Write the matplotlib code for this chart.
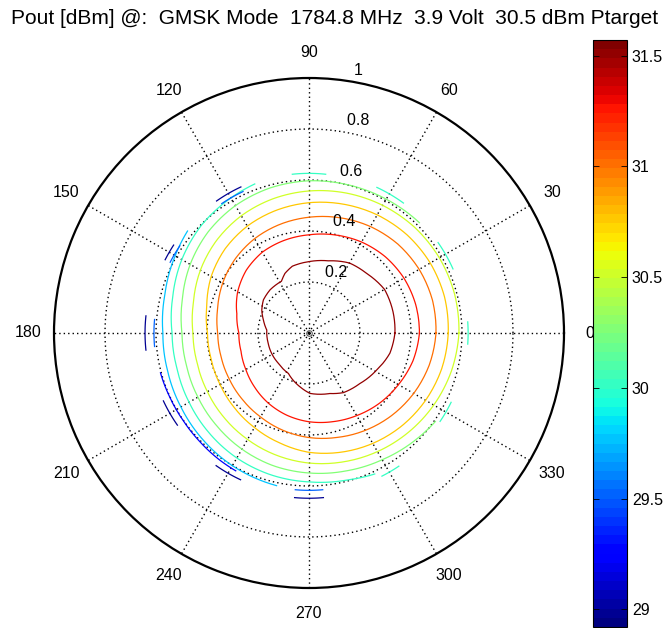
import numpy as np
import matplotlib
matplotlib.use('Agg')
import matplotlib.pyplot as plt
from matplotlib import colors, cm

plt.rcParams['font.family'] = ['Liberation Sans', 'DejaVu Sans']
FS = 11.5

TITLE = 'Pout [dBm] @:  GMSK Mode  1784.8 MHz  3.9 Volt  30.5 dBm Ptarget'
CLIM = (28.92, 31.57)
CBAR_TICKS = [29, 29.5, 30, 30.5, 31, 31.5]
R_TICKS = [0.2, 0.4, 0.6, 0.8, 1.0]
TH_TICKS = list(range(0, 360, 30))

# contour lines: angle in degrees, radius (|gamma|)
th24 = list(range(0, 375, 15))

c315_th = [0, 15, 30, 46, 60, 75, 90, 104, 112, 118, 132, 144, 154, 164, 176,
           194, 209, 225, 243, 260, 271, 289, 300, 315, 331, 346, 360]
c315_r = [0.337, 0.340, 0.342, 0.325, 0.317, 0.293, 0.280, 0.270, 0.252, 0.230,
          0.228, 0.221, 0.206, 0.186, 0.166, 0.165, 0.167, 0.169, 0.178, 0.213,
          0.237, 0.251, 0.270, 0.281, 0.302, 0.327, 0.337]

c3125_r = [0.433, 0.433, 0.430, 0.423, 0.412, 0.398, 0.385, 0.376, 0.366, 0.348,
           0.323, 0.293, 0.275, 0.276, 0.286, 0.301, 0.318, 0.334, 0.348, 0.360,
           0.374, 0.390, 0.405, 0.422, 0.433]
c310_r = [0.498, 0.501, 0.499, 0.493, 0.482, 0.468, 0.454, 0.441, 0.427, 0.410,
          0.391, 0.371, 0.358, 0.357, 0.361, 0.369, 0.380, 0.395, 0.410, 0.424,
          0.441, 0.458, 0.474, 0.488, 0.498]
c3075_r = [0.546, 0.550, 0.549, 0.544, 0.535, 0.523, 0.511, 0.498, 0.484, 0.466,
           0.443, 0.415, 0.398, 0.397, 0.403, 0.414, 0.428, 0.446, 0.468, 0.484,
           0.500, 0.515, 0.528, 0.539, 0.546]
c305_r = [0.588, 0.591, 0.590, 0.586, 0.578, 0.568, 0.557, 0.545, 0.531, 0.513,
          0.492, 0.469, 0.455, 0.454, 0.460, 0.470, 0.482, 0.496, 0.510, 0.523,
          0.537, 0.551, 0.565, 0.578, 0.588]

c3025_th = [45, 60, 75, 90, 105, 120, 135, 150, 165, 180, 195, 210, 225, 240,
            255, 270, 285, 300, 315, 325]
c3025_r = [0.612, 0.606, 0.601, 0.597, 0.589, 0.577, 0.560, 0.538, 0.514, 0.498,
           0.497, 0.503, 0.513, 0.526, 0.539, 0.549, 0.560, 0.574, 0.592, 0.605]

c300_th = [110, 120, 135, 150, 165, 180, 195, 210, 225, 240, 255, 270, 285, 295]
c300_r = [0.622, 0.612, 0.597, 0.576, 0.553, 0.537, 0.536, 0.543, 0.554, 0.566,
          0.576, 0.584, 0.596, 0.610]

c2975_th = [140, 150, 165, 180, 195, 210, 225, 240, 258]
c2975_r = [0.622, 0.606, 0.585, 0.573, 0.574, 0.580, 0.590, 0.601, 0.612]

c2925_th = [195, 205, 215, 225, 235, 242]
c2925_r = [0.603, 0.601, 0.601, 0.604, 0.609, 0.612]

# short pieces near the edge of the measured area: level, start, end, radius
arcs = [(30.0, 84, 96, 0.626), (30.0, 54, 65, 0.630), (30.0, 24, 35, 0.618),
        (30.0, -4, 4, 0.624), (30.0, 326, 334, 0.620), (30.0, 297, 304, 0.630),
        (29.5, 115, 124, 0.612), (29.5, 146, 153, 0.611), (29.5, 175, 185, 0.608),
        (29.5, 265, 275, 0.617),
        (29.0, 115, 125, 0.632), (29.0, 147, 153, 0.633), (29.0, 174, 186, 0.643),
        (29.0, 205, 215, 0.630), (29.0, 235, 245, 0.635), (29.0, 265, 275, 0.648)]

lines = [(31.5, c315_th, c315_r), (31.25, th24, c3125_r), (31.0, th24, c310_r),
         (30.75, th24, c3075_r), (30.5, th24, c305_r), (30.25, c3025_th, c3025_r),
         (30.0, c300_th, c300_r), (29.75, c2975_th, c2975_r),
         (29.25, c2925_th, c2925_r)]

cmap = plt.get_cmap('jet', 64)
norm = colors.Normalize(*CLIM)

fig = plt.figure(figsize=(6.67, 6.28), dpi=100)
ax = fig.add_axes([54 / 667, 40 / 628, 510 / 667, 510 / 628], projection='polar')
ax.set_ylim(0, 1)
ax.grid(False)
ax.set_xticks([])
ax.set_yticks([])
ax.spines['polar'].set_linewidth(1.6)

dots = (0, (1, 2.2))
tt = np.linspace(0, 2 * np.pi, 361)
for r in R_TICKS[:-1]:
    ax.plot(tt, np.full_like(tt, r), color='k', lw=1.0, ls=dots)
for t in TH_TICKS:
    ax.plot([np.deg2rad(t)] * 2, [0, 1], color='k', lw=1.0, ls=dots)

for lev, th, rr in lines:
    ln, = ax.plot(np.deg2rad(th), rr, color=cmap(norm(lev)), lw=0.9)
    # let the polar transform draw each step as a curve, not a chord
    ln.get_path()._interpolation_steps = 16
for lev, t0, t1, r in arcs:
    ta = np.deg2rad(np.linspace(t0, t1, 20))
    ax.plot(ta, np.full_like(ta, r), color=cmap(norm(lev)), lw=0.9)

ax.plot([0], [0], 'o', mfc='none', mec='0.35', ms=4, mew=0.8)

for t in TH_TICKS:
    ax.text(np.deg2rad(t), 1.1, str(t), ha='center', va='center', fontsize=FS)
for r in R_TICKS:
    ax.text(np.deg2rad(82), r + 0.01, '  ' + ('%g' % r), ha='left', va='bottom',
            fontsize=FS)

fig.text(0.502, 0.971, TITLE, ha='center', va='center', fontsize=15.0)

cax = fig.add_axes([593 / 667, 1 / 628, 34 / 667, 587 / 628])
cb = fig.colorbar(cm.ScalarMappable(norm=norm, cmap=cmap), cax=cax)
cb.set_ticks(CBAR_TICKS)
cb.set_ticklabels(['%g' % v for v in CBAR_TICKS])
cb.outline.set_linewidth(0.8)
cax.tick_params(direction='in', length=4, width=0.6, left=True, right=True,
                labelleft=False, labelright=True, labelsize=FS)

fig.savefig('out.png', dpi=100)
